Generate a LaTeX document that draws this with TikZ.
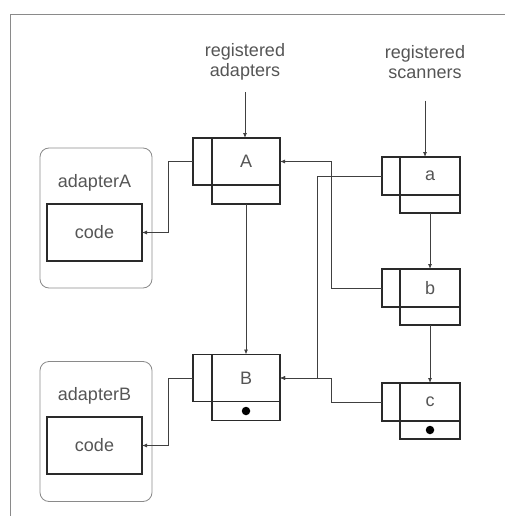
\documentclass[tikz,border=0pt]{standalone}
\usepackage{fontspec}
\setmainfont{Liberation Sans}
\usetikzlibrary{positioning,arrows.meta}
\definecolor{boxgray}{HTML}{2A2A2A}
\definecolor{linegray}{HTML}{404040}
\definecolor{txtgray}{HTML}{555555}
\definecolor{framegray}{HTML}{8A8A8A}

\begin{document}
\begin{tikzpicture}[x=1pt, y=-1pt,
  font=\fontsize{18}{20}\selectfont,
  every node/.style={outer sep=0pt, inner sep=0pt, text=txtgray},
  bigmain/.style={draw=boxgray, line width=1.4pt, minimum width=68pt, minimum height=47pt},
  bigtab/.style={draw=boxgray, line width=1.4pt, minimum width=19pt, minimum height=47pt},
  biglow/.style={draw=boxgray, line width=1.4pt, minimum width=68pt, minimum height=19pt},
  smallmain/.style={draw=boxgray, line width=1.4pt, minimum width=60pt, minimum height=38pt},
  smalltab/.style={draw=boxgray, line width=1.4pt, minimum width=18pt, minimum height=38pt},
  smalllow/.style={draw=boxgray, line width=1.4pt, minimum width=60pt, minimum height=18pt},
  adapter/.style={draw=framegray, line width=0.8pt, rounded corners=9pt, minimum width=112pt, minimum height=140pt},
  codebox/.style={draw=boxgray, line width=1.4pt, minimum width=95pt, minimum height=57pt},
  endmark/.style={circle, fill=black, minimum size=8.5pt},
  conn/.style={draw=linegray, line width=0.8pt},
  arr/.style={conn, -{Latex[length=5pt, width=4pt]}}
]
\useasboundingbox (0,0) rectangle (505,516);
\draw[framegray, line width=1pt] (505,15) -- (10,15) -- (10,516);

\node[align=center] (regA) at (245,62) {registered\\adapters};
\node[align=center] (regS) at (425,62) {registered\\scanners};

\node[bigmain] (A) at (246,161.5) {A};
\node[bigtab, left=0pt of A] (Atab) {};
\node[biglow, below=0pt of A] (Alow) {};

\node[bigmain] (B) at (246,378) {B};
\node[bigtab, left=0pt of B] (Btab) {};
\node[biglow, below=0pt of B] (Blow) {};
\node[endmark] at (Blow) {};

\node[smallmain] (a) at (430,176) {a};
\node[smalltab, left=0pt of a] (atab) {};
\node[smalllow, below=0pt of a] (alow) {};

\node[smallmain] (b) at (430,288) {b};
\node[smalltab, left=0pt of b] (btab) {};
\node[smalllow, below=0pt of b] (blow) {};

\node[smallmain] (c) at (430,402) {c};
\node[smalltab, left=0pt of c] (ctab) {};
\node[smalllow, below=0pt of c] (clow) {};
\node[endmark] at (clow) {};

\node[adapter] (adA) at (96,218) {};
\node[codebox] (codeA) at (94.5,232.5) {code};
\node[above=13pt of codeA] {adapterA};

\node[adapter] (adB) at (96,431.5) {};
\node[codebox] (codeB) at (94.5,445.5) {code};
\node[above=13pt of codeB] {adapterB};

\draw[arr, shorten <=12pt] (regA.south) -- (regA.south |- A.north);
\draw[arr, shorten <=22pt] (regS.south) -- (regS.south |- a.north);
\draw[arr] (Alow) -- (B);
\draw[arr] (alow) -- (b);
\draw[arr] (blow) -- (c);
\draw[arr] (Atab.west) -- ++(-25,0) |- (codeA.east);
\draw[arr] (Btab.west) -- ++(-25,0) |- (codeB.east);
\draw[arr] (btab.west) -- ++(-51,0) |- (A.east);
\draw[arr] (atab.west) -- ++(-65,0) |- (B.east);
\draw[arr] (ctab.west) -- ++(-51,0) |- (B.east);
\end{tikzpicture}
\end{document}
